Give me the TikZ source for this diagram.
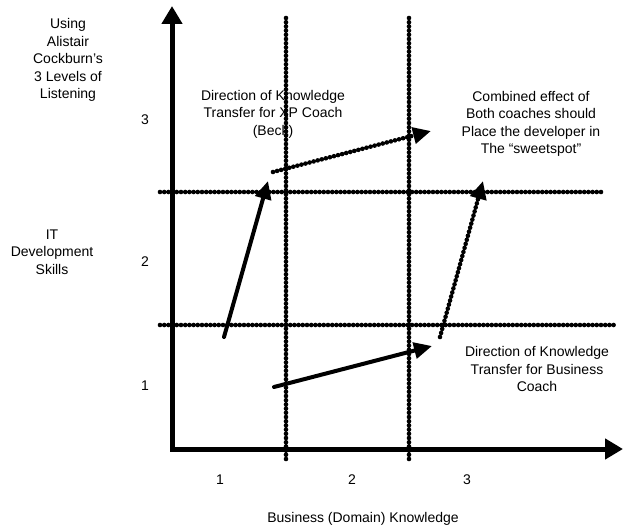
\documentclass[tikz,border=0pt]{standalone}
\usepackage{fontspec}
\setmainfont{Liberation Sans}
\usetikzlibrary{arrows.meta}
\tikzset{
  axis/.style={line width=5pt, line join=miter},
  dotline/.style={line width=4.6pt, line cap=round, dash pattern=on 0pt off 4.2pt},
  bigarrow/.style={line width=4pt, line cap=round, -{Triangle[length=18pt,width=16pt]}},
  dotarrow/.style={line width=4.6pt, line cap=round, dash pattern=on 0pt off 4.2pt, -{Triangle[length=18pt,width=16pt]}},
  lbl/.style={align=center, inner sep=0pt, font=\fontsize{14}{17.5}\selectfont},
}
\begin{document}
\begin{tikzpicture}[x=1pt,y=-1pt]
\useasboundingbox (0,0) rectangle (623,529);
% axes
\coordinate (o) at (172,449);
\coordinate (ytip) at (172,6);
\coordinate (xtip) at (623,449);
\draw[axis,{Triangle[length=18pt,width=20pt]}-{Triangle[length=18pt,width=20pt]}] (ytip) -- (o) -- (xtip);
% grid dotted lines
\coordinate (v1t) at (286,18); \coordinate (v1b) at (286,462);
\coordinate (v2t) at (409,18); \coordinate (v2b) at (409,462);
\coordinate (h1l) at (160,192); \coordinate (h1r) at (605,192);
\coordinate (h2l) at (160,325); \coordinate (h2r) at (616,325);
\draw[dotline] (v1t) -- (v1b);
\draw[dotline] (v2t) -- (v2b);
\draw[dotline] (h1l) -- (h1r);
\draw[dotline] (h2l) -- (h2r);
% arrows
\coordinate (a1s) at (224,337); \coordinate (a1e) at (268,181);
\coordinate (a2s) at (273,172); \coordinate (a2e) at (431,131);
\coordinate (a3s) at (274,387); \coordinate (a3e) at (432,346);
\coordinate (a4s) at (440,337); \coordinate (a4e) at (483,181);
\draw[bigarrow] (a1s) -- (a1e);
\draw[dotarrow] (a2s) -- (a2e);
\draw[bigarrow] (a3s) -- (a3e);
\draw[dotarrow] (a4s) -- (a4e);
% labels
\node[lbl] (listen) at (68,60) {Using\\Alistair\\Cockburn's\\3 Levels of\\Listening};
\node[lbl] (it) at (52,252) {IT\\Development\\Skills};
\node[lbl] (y3) at (145,120) {3};
\node[lbl] (y2) at (145,262) {2};
\node[lbl] (y1) at (145,386) {1};
\node[lbl] (x1) at (220,480) {1};
\node[lbl] (x2) at (352,480) {2};
\node[lbl] (x3) at (467,480) {3};
\node[lbl] (xlab) at (363,519) {Business (Domain) Knowledge};
\node[lbl] (xp) at (273,114) {Direction of Knowledge\\Transfer for XP Coach\\(Beck)};
\node[lbl] (comb) at (531,124) {Combined effect of\\Both coaches should\\Place the developer in\\The “sweetspot”};
\node[lbl] (bus) at (537,369) {Direction of Knowledge\\Transfer for Business\\Coach};
\end{tikzpicture}
\end{document}
